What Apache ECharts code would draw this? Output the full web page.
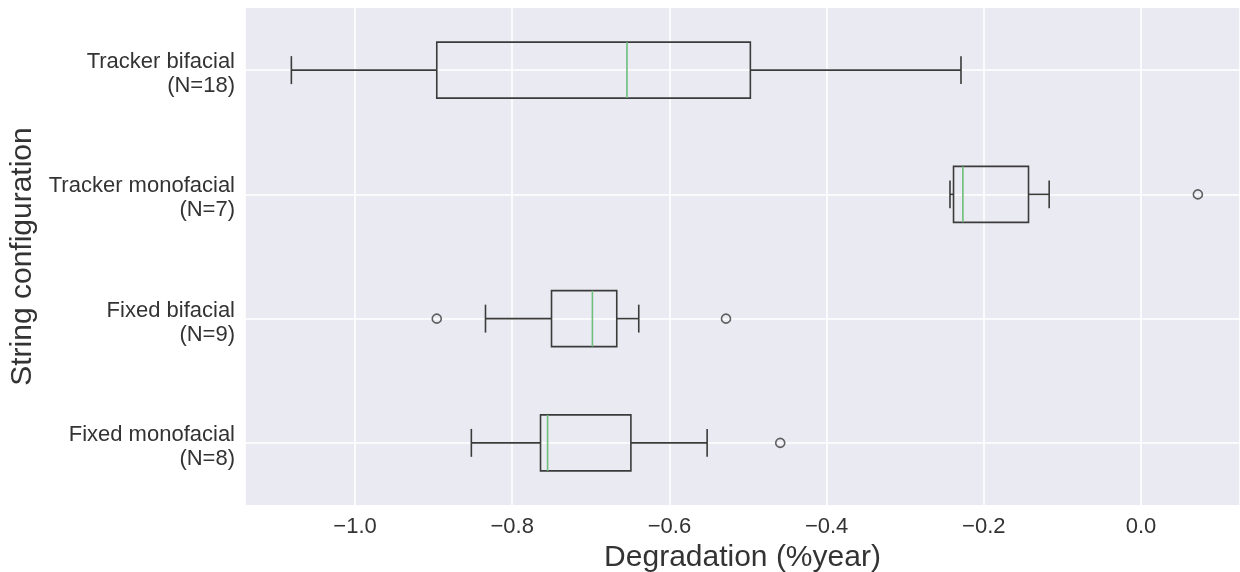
<!DOCTYPE html>
<html>
<head>
<meta charset="utf-8">
<script src="https://cdn.jsdelivr.net/npm/echarts@6/dist/echarts.min.js"></script>
<style>
  html, body { margin: 0; padding: 0; background: #ffffff; }
  #chart { width: 1240px; height: 572px; }
</style>
</head>
<body>
<div id="chart"></div>
<script>
// Degradation rate per string configuration (top to bottom)
const categories = [
  'Tracker bifacial\n(N=18)',
  'Tracker monofacial\n(N=7)',
  'Fixed bifacial\n(N=9)',
  'Fixed monofacial\n(N=8)'
];
const whiskerLow  = [-1.081, -0.243, -0.834, -0.852];
const q1          = [-0.896, -0.2385, -0.750, -0.764];
const median      = [-0.654, -0.2266, -0.698, -0.755];
const q3          = [-0.497, -0.1431, -0.667, -0.649];
const whiskerHigh = [-0.229, -0.1168, -0.639, -0.552];
const outliers    = [[], [0.0724], [-0.896, -0.528], [-0.459]];

const xMin = -1.14;
const xMax = 0.126;

const boxData = categories.map((c, i) =>
  [i, whiskerLow[i], q1[i], median[i], q3[i], whiskerHigh[i]]);
const outlierData = [];
outliers.forEach((vals, i) => vals.forEach(v => outlierData.push([v, i])));

const textColor = '#333333';
const boxColor = '#3b3b3b';
const medianColor = '#6dbf7c';

function renderBox(params, api) {
  const idx = api.value(0);
  const band = api.size([0, 1])[1];
  const boxH = band * 0.45;
  const capH = boxH * 0.5;
  const pLo = api.coord([api.value(1), idx]);
  const pQ1 = api.coord([api.value(2), idx]);
  const pMed = api.coord([api.value(3), idx]);
  const pQ3 = api.coord([api.value(4), idx]);
  const pHi = api.coord([api.value(5), idx]);
  const cy = pQ1[1];
  const line = { stroke: boxColor, lineWidth: 1.6 };
  return {
    type: 'group',
    children: [
      { type: 'line', shape: { x1: pLo[0], y1: cy, x2: pQ1[0], y2: cy }, style: line },
      { type: 'line', shape: { x1: pQ3[0], y1: cy, x2: pHi[0], y2: cy }, style: line },
      { type: 'line', shape: { x1: pLo[0], y1: cy - capH / 2, x2: pLo[0], y2: cy + capH / 2 }, style: line },
      { type: 'line', shape: { x1: pHi[0], y1: cy - capH / 2, x2: pHi[0], y2: cy + capH / 2 }, style: line },
      { type: 'rect', shape: { x: pQ1[0], y: cy - boxH / 2, width: pQ3[0] - pQ1[0], height: boxH },
        style: { fill: 'none', stroke: boxColor, lineWidth: 1.6 } },
      { type: 'line', shape: { x1: pMed[0], y1: cy - boxH / 2, x2: pMed[0], y2: cy + boxH / 2 },
        style: { stroke: medianColor, lineWidth: 1.6 } }
    ]
  };
}

const chart = echarts.init(document.getElementById('chart'), null, { renderer: 'canvas' });
chart.setOption({
  animation: false,
  backgroundColor: '#ffffff',
  textStyle: { fontFamily: 'Liberation Sans, Arial, sans-serif' },
  grid: {
    left: 245, right: 0, top: 8, bottom: 67,
    containLabel: false,
    outerBoundsMode: 'none',
    show: true, backgroundColor: '#eaeaf2', borderWidth: 0
  },
  xAxis: {
    type: 'value',
    min: xMin, max: xMax,
    splitNumber: 6, minInterval: 0.2, maxInterval: 0.2,
    name: 'Degradation (%year)',
    nameLocation: 'middle',
    nameGap: 26,
    nameTextStyle: { fontSize: 30, color: textColor },
    axisLine: { show: false },
    axisTick: { show: false },
    axisLabel: {
      fontSize: 22, color: textColor, margin: 11,
      showMinLabel: false, showMaxLabel: false,
      formatter: v => (Math.abs(v) < 1e-9 ? '0.0' : (v < 0 ? '\u2212' : '') + Math.abs(v).toFixed(1))
    },
    splitLine: { show: true, lineStyle: { color: '#ffffff', width: 1.6 } }
  },
  yAxis: {
    type: 'category',
    data: categories,
    inverse: true,
    name: 'String configuration',
    nameLocation: 'middle',
    nameGap: 201,
    nameRotate: 90,
    nameTextStyle: { fontSize: 30, color: textColor },
    axisLine: { show: false },
    axisTick: { show: false },
    axisLabel: {
      color: textColor, margin: 10, align: 'right',
      formatter: v => '{s| }\n' + v.split('\n').map(s => '{t|' + s + '}').join('\n'),
      rich: {
        s: { fontSize: 1, lineHeight: 8 },
        t: { fontSize: 22, lineHeight: 24, color: textColor }
      }
    },
    splitLine: { show: false }
  },
  series: [
    {
      // horizontal grid lines through each category
      type: 'scatter',
      data: [],
      z: 1,
      silent: true,
      markLine: {
        z: 1,
        silent: true,
        symbol: 'none',
        label: { show: false },
        lineStyle: { color: '#ffffff', width: 1.6, type: 'solid' },
        data: categories.map(c => ({ yAxis: c }))
      }
    },
    {
      type: 'custom',
      z: 6,
      renderItem: renderBox,
      encode: { y: 0, x: [1, 2, 3, 4, 5] },
      data: boxData
    },
    {
      type: 'scatter',
      z: 7,
      symbol: 'circle',
      symbolSize: 9,
      itemStyle: { color: 'rgba(0,0,0,0)', borderColor: boxColor, borderWidth: 1.6 },
      data: outlierData
    }
  ]
});
</script>
</body>
</html>
